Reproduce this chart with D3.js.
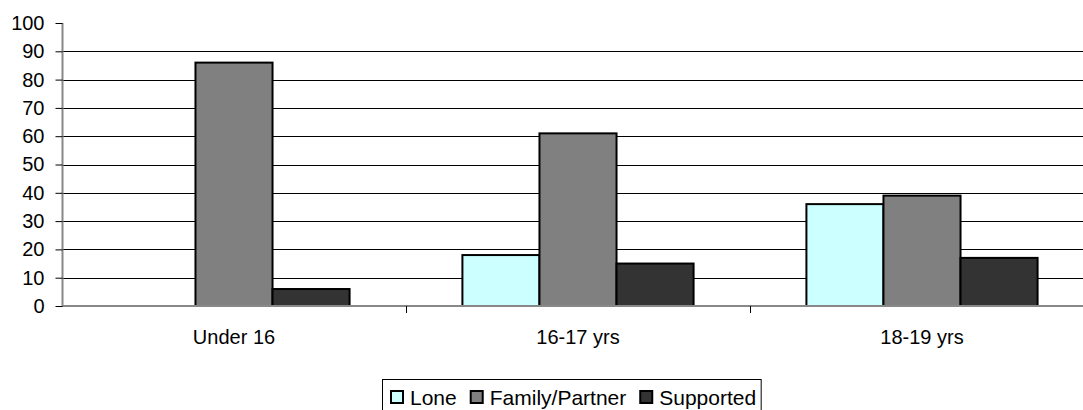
<!DOCTYPE html>
<html>
<head>
<meta charset="utf-8">
<script src="https://cdn.jsdelivr.net/npm/d3@7"></script>
<style>
  html, body { margin: 0; padding: 0; background: #fff; }
  svg { display: block; font-family: "Liberation Sans", Arial, sans-serif; }
</style>
</head>
<body>
<div id="chart"></div>
<script>
const categories = ["Under 16", "16-17 yrs", "18-19 yrs"];
const seriesNames = ["Lone", "Family/Partner", "Supported"];
const lone = [0, 18, 36];
const familyPartner = [86, 61, 39];
const supported = [6, 15, 17];
const yTicks = [0, 10, 20, 30, 40, 50, 60, 70, 80, 90, 100];

const colors = ["#ccffff", "#808080", "#333333"];
const seriesValues = [lone, familyPartner, supported];

const width = 1083, height = 410;
const svg = d3.select("#chart").append("svg")
  .attr("width", width)
  .attr("height", height);

const x = d3.scaleBand()
  .domain(categories)
  .range([62, 1094]);

const xSub = d3.scaleBand()
  .domain(seriesNames)
  .range([x.bandwidth() * 0.164, x.bandwidth() * 0.836]);

const y = d3.scaleLinear()
  .domain([0, 100])
  .range([306, 23]);

// gridlines
svg.append("g")
  .selectAll("line")
  .data(yTicks.filter(d => d > 0 && d < 100))
  .enter().append("line")
  .attr("x1", 62).attr("x2", width)
  .attr("y1", d => Math.round(y(d)) + 0.5)
  .attr("y2", d => Math.round(y(d)) + 0.5)
  .attr("stroke", "#000")
  .attr("stroke-width", 1);

// bars
const rows = categories.map((c, i) => ({
  cat: c,
  vals: seriesNames.map((s, j) => ({ s: s, v: seriesValues[j][i], color: colors[j] }))
}));

svg.append("g")
  .selectAll("g")
  .data(rows)
  .enter().append("g")
  .attr("transform", d => "translate(" + x(d.cat) + ",0)")
  .selectAll("rect")
  .data(d => d.vals.filter(e => e.v > 0))
  .enter().append("rect")
  .attr("x", d => xSub(d.s))
  .attr("y", d => y(d.v))
  .attr("width", xSub.bandwidth())
  .attr("height", d => y(0) - y(d.v))
  .attr("fill", d => d.color)
  .attr("stroke", "#000")
  .attr("stroke-width", 2);

// x axis
const xAxis = d3.axisBottom(x)
  .tickSize(0)
  .tickPadding(24);

const gx = svg.append("g")
  .attr("transform", "translate(0," + y(0) + ")")
  .call(xAxis);
gx.select(".domain").remove();
gx.selectAll("text")
  .attr("font-size", 20)
  .attr("fill", "#000")
  .attr("font-family", "'Liberation Sans', Arial, sans-serif");

svg.append("line")
  .attr("x1", 62).attr("x2", width)
  .attr("y1", y(0)).attr("y2", y(0))
  .attr("stroke", "#888")
  .attr("stroke-width", 2);

// category separators
svg.append("g")
  .selectAll("line")
  .data(categories.slice(1))
  .enter().append("line")
  .attr("x1", d => Math.round(x(d)) + 0.5)
  .attr("x2", d => Math.round(x(d)) + 0.5)
  .attr("y1", y(0))
  .attr("y2", y(0) + 7)
  .attr("stroke", "#000");

// y axis
const yAxis = d3.axisLeft(y)
  .tickValues(yTicks)
  .tickSize(7)
  .tickPadding(11);

const gy = svg.append("g")
  .attr("transform", "translate(62.5,0)")
  .call(yAxis);
gy.select(".domain").attr("stroke", "#888").attr("stroke-width", 2)
  .attr("d", "M0," + y(100) + "V" + (y(0) + 1));
gy.selectAll(".tick line").attr("stroke", "#000");
gy.selectAll("text")
  .attr("font-size", 20)
  .attr("fill", "#000")
  .attr("font-family", "'Liberation Sans', Arial, sans-serif");

// legend
const legend = svg.append("g");
const legendBox = legend.append("rect")
  .attr("x", 382.5).attr("y", 379.5)
  .attr("height", 32)
  .attr("fill", "#fff")
  .attr("stroke", "#000");

let lx = 391;
seriesNames.forEach((s, i) => {
  legend.append("rect")
    .attr("x", lx).attr("y", 391)
    .attr("width", 12).attr("height", 12)
    .attr("fill", colors[i])
    .attr("stroke", "#000")
    .attr("stroke-width", 2);
  const t = legend.append("text")
    .attr("x", lx + 19).attr("y", 404.5)
    .attr("font-size", 21)
    .attr("fill", "#000")
    .text(s);
  lx += 19 + t.node().getComputedTextLength() + 14;
});
legendBox.attr("width", lx - 14 + 5 - 382.5);
</script>
</body>
</html>
